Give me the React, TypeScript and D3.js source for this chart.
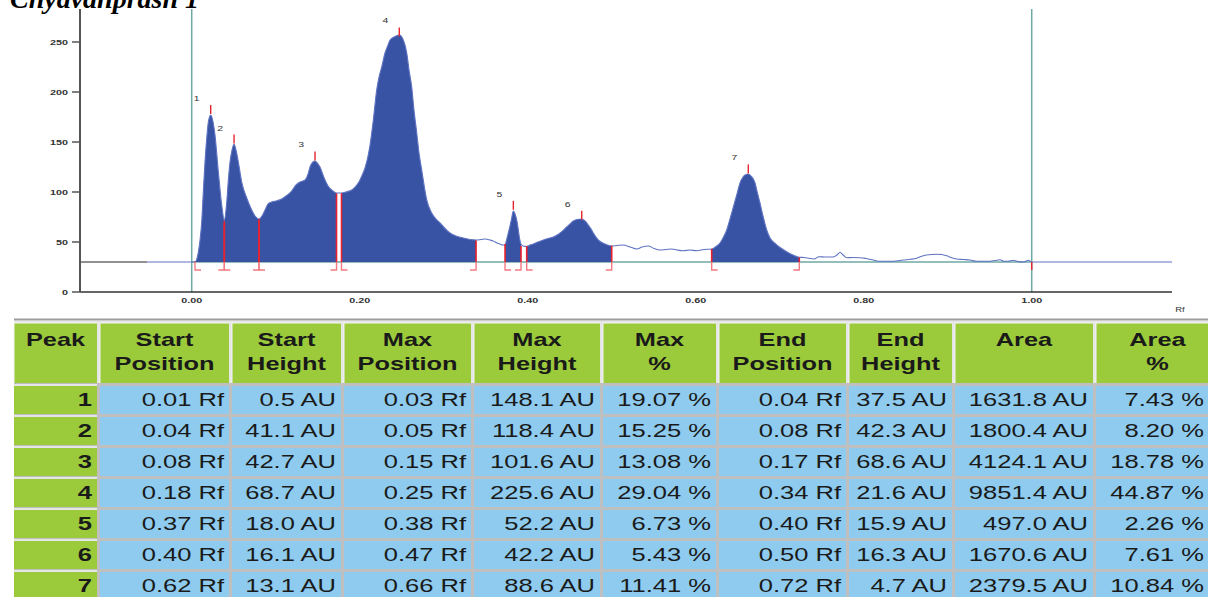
import * as d3 from "d3";

// densitogram trace: [Rf, AU]
const trace: [number, number][] = [
  [-0.053, 30], [0.0, 30], [0.0039, 30], [0.0079, 40], [0.0099, 52], [0.0119, 70],
  [0.0138, 100], [0.0158, 130], [0.0179, 154], [0.0198, 170], [0.0226, 177],
  [0.0254, 170], [0.0277, 157], [0.0317, 120], [0.0357, 87], [0.0388, 72],
  [0.0417, 90], [0.0436, 112], [0.0456, 130], [0.048, 142], [0.0504, 148],
  [0.0527, 142], [0.0555, 130], [0.0595, 110], [0.0655, 94], [0.0714, 82],
  [0.0754, 76], [0.0801, 73], [0.0837, 76], [0.0873, 82], [0.0908, 88],
  [0.0952, 90], [0.1004, 91], [0.1071, 93], [0.1123, 96], [0.119, 101],
  [0.1242, 107], [0.1289, 110], [0.1349, 112], [0.1385, 118], [0.1408, 125],
  [0.1444, 130], [0.1468, 131], [0.1504, 128], [0.1527, 125], [0.1563, 117],
  [0.1587, 112], [0.1623, 106], [0.1667, 102], [0.1724, 99], [0.1783, 99],
  [0.1837, 100], [0.1905, 102], [0.1956, 106], [0.1983, 109], [0.2024, 116],
  [0.2063, 124], [0.2099, 136], [0.2123, 147], [0.2162, 172], [0.2202, 202],
  [0.223, 215], [0.2262, 225], [0.2301, 239], [0.2337, 247], [0.2361, 252],
  [0.242, 255.5], [0.2471, 257], [0.2519, 252], [0.256, 239], [0.2587, 222],
  [0.2619, 205], [0.2646, 182], [0.2679, 159], [0.2706, 139], [0.2738, 122],
  [0.2798, 92], [0.2857, 79], [0.2908, 73], [0.2956, 69], [0.3075, 59],
  [0.3146, 56], [0.3233, 54], [0.3313, 52.5], [0.3385, 52], [0.3444, 52.5],
  [0.3492, 53], [0.3551, 52], [0.359, 51], [0.3635, 49], [0.367, 48],
  [0.3706, 47], [0.373, 47], [0.3748, 52], [0.3769, 59], [0.3789, 66],
  [0.3807, 73], [0.3829, 81], [0.3849, 78], [0.3869, 72], [0.3885, 64],
  [0.39, 55], [0.392, 48], [0.3944, 46], [0.3988, 45.5], [0.4027, 47],
  [0.4067, 48], [0.4123, 50], [0.4186, 52], [0.4242, 53.5], [0.4305, 55],
  [0.4361, 57.5], [0.4405, 60.3], [0.4464, 65], [0.4504, 68], [0.4543, 71],
  [0.4587, 72.5], [0.4643, 73], [0.4682, 71], [0.4721, 67], [0.4754, 63],
  [0.4781, 59], [0.484, 52], [0.492, 48], [0.5, 46], [0.5063, 46.5],
  [0.5138, 47], [0.5218, 45], [0.5298, 43], [0.5361, 45], [0.5436, 46],
  [0.5504, 43.5], [0.5575, 42], [0.5646, 42.5], [0.5714, 43], [0.5777, 42],
  [0.5852, 41.3], [0.5932, 42], [0.6012, 41.3], [0.6099, 42.5], [0.619, 43],
  [0.6242, 45.5], [0.6289, 49], [0.6325, 54], [0.6369, 62], [0.6408, 73],
  [0.6448, 85], [0.6488, 97], [0.6527, 109], [0.6563, 115], [0.6599, 117.5],
  [0.6626, 118], [0.6658, 116], [0.6706, 109], [0.6735, 99], [0.6765, 89],
  [0.6801, 76], [0.6845, 62], [0.6885, 54], [0.6944, 48.7], [0.7004, 44.5],
  [0.7083, 40.3], [0.7158, 37], [0.7233, 34.7], [0.7289, 34.5], [0.7349, 33.7],
  [0.7408, 33], [0.7468, 35.3], [0.754, 35], [0.7638, 35], [0.7682, 37],
  [0.7718, 39.7], [0.7754, 37], [0.7798, 34.3], [0.7873, 34.5], [0.7956, 34.3],
  [0.8027, 33.5], [0.8114, 32], [0.8174, 30.7], [0.8352, 30.7], [0.8471, 32],
  [0.8551, 32.7], [0.8631, 33.7], [0.8682, 35.5], [0.8749, 37], [0.8869, 37.7],
  [0.8988, 36.3], [0.9039, 34.5], [0.9107, 33], [0.9182, 32.5], [0.9265, 32],
  [0.9345, 30.7], [0.9504, 30.7], [0.9563, 31.5], [0.9623, 32.3], [0.967, 30.7],
  [0.9718, 30.7], [0.9781, 31.7], [0.9837, 30.5], [0.99, 30], [0.996, 31.7],
  [1.0, 30], [1.167, 30],
];

const BASE_AU = 30; // baseline the peak heights are measured from
const FRONT_RF = 1.0;

// integration limits as drawn on the scan
const peakFrom = [0.0039, 0.0388, 0.0801, 0.1783, 0.373, 0.3988, 0.619];
const peakTo = [0.0388, 0.0801, 0.1724, 0.3385, 0.392, 0.5, 0.7233];
const peakTop = [0.0226, 0.0504, 0.1468, 0.2471, 0.3829, 0.4643, 0.6626];

// peak table
const peakNo = [1, 2, 3, 4, 5, 6, 7];
const startPos = [0.01, 0.04, 0.08, 0.18, 0.37, 0.4, 0.62];
const startHeight = [0.5, 41.1, 42.7, 68.7, 18.0, 16.1, 13.1];
const maxPos = [0.03, 0.05, 0.15, 0.25, 0.38, 0.47, 0.66];
const maxHeight = [148.1, 118.4, 101.6, 225.6, 52.2, 42.2, 88.6];
const maxPct = [19.07, 15.25, 13.08, 29.04, 6.73, 5.43, 11.41];
const endPos = [0.04, 0.08, 0.17, 0.34, 0.4, 0.5, 0.72];
const endHeight = [37.5, 42.3, 68.6, 21.6, 15.9, 16.3, 4.7];
const areaAU = [1631.8, 1800.4, 4124.1, 9851.4, 497.0, 1670.6, 2379.5];
const areaPct = [7.43, 8.2, 18.78, 44.87, 2.26, 7.61, 10.84];

const headers = [
  ["Peak"], ["Start", "Position"], ["Start", "Height"], ["Max", "Position"],
  ["Max", "Height"], ["Max", "%"], ["End", "Position"], ["End", "Height"],
  ["Area"], ["Area", "%"],
];

const yTicks = [0, 50, 100, 150, 200, 250];
const xTicks = [0, 0.2, 0.4, 0.6, 0.8, 1.0];

const W = 1208;
const H = 597;
const SX = 1.38; // the scan is stretched horizontally

const BLUE = "#3953a4";
const LINE = "#5f73c2";
const TEAL = "#6fa9a6";
const RED = "#e8232f";
const PINK = "#f27a80";

const x = d3.scaleLinear([-0.133, 1.167], [80, 1172]);
const y = d3.scaleLinear([0, 283], [292, 9]);

const line = d3
  .line<[number, number]>()
  .x((d) => x(d[0]))
  .y((d) => y(d[1]))
  .curve(d3.curveMonotoneX);
const fillArea = d3
  .area<[number, number]>()
  .x((d) => x(d[0]))
  .y0(y(BASE_AU))
  .y1((d) => y(d[1]))
  .curve(d3.curveMonotoneX);

const f2 = d3.format(".2f");
const f1 = d3.format(".1f");

function T({ x, y, size, bold = false, anchor = "start", fill = "#1a1a1a", sx = SX, family = "'Liberation Sans', Arial, sans-serif", italic = false, children }: any) {
  return (
    <text
      transform={`translate(${x},${y}) scale(${sx},1)`}
      fontSize={size}
      fontWeight={bold ? "bold" : "normal"}
      fontStyle={italic ? "italic" : "normal"}
      fontFamily={family}
      textAnchor={anchor}
      fill={fill}
    >
      {children}
    </text>
  );
}

function Chart() {
  const y0 = y(BASE_AU);
  const yLow = y(BASE_AU - 8);
  return (
    <g>
      {/* Rf 0 and solvent front */}
      {[0, FRONT_RF].map((r) => (
        <line key={r} x1={x(r)} x2={x(r)} y1={y(283)} y2={y(0)} stroke={TEAL} strokeWidth={1.5} />
      ))}
      <line x1={x(0)} x2={x(FRONT_RF)} y1={y0} y2={y0} stroke={TEAL} strokeWidth={1.3} />
      {/* lead-in before the scan */}
      <line x1={x.range()[0]} x2={x(trace[0][0])} y1={y0} y2={y0} stroke="#222" strokeWidth={1} />

      <defs>
        {peakFrom.map((s, i) => (
          <clipPath id={`pk${i}`} key={i}>
            <rect x={x(s)} y={0} width={x(peakTo[i]) - x(s)} height={y0} />
          </clipPath>
        ))}
      </defs>
      {peakFrom.map((s, i) => (
        <path key={i} d={fillArea(trace) as string} fill={BLUE} clipPath={`url(#pk${i})`} />
      ))}
      <path d={line(trace) as string} fill="none" stroke={LINE} strokeWidth={1.1} />

      {/* integration limits */}
      {peakFrom.map((s, i) => {
        const xs = x(s);
        const xe = x(peakTo[i]);
        return (
          <g key={i}>
            <line x1={xs} x2={xs} y1={y(startHeight[i] + BASE_AU)} y2={y0} stroke={RED} strokeWidth={1.6} />
            <path d={`M${xs},${y0}V${yLow}h6`} fill="none" stroke={PINK} strokeWidth={1.4} />
            <line x1={xe} x2={xe} y1={y(endHeight[i] + BASE_AU)} y2={y0} stroke={RED} strokeWidth={1.6} />
            <path d={`M${xe},${y0}V${yLow}h-6`} fill="none" stroke={PINK} strokeWidth={1.4} />
            <line
              x1={x(peakTop[i])}
              x2={x(peakTop[i])}
              y1={y(maxHeight[i] + BASE_AU)}
              y2={y(maxHeight[i] + BASE_AU + 9)}
              stroke={RED}
              strokeWidth={1.4}
            />
            <T x={x(peakTop[i]) - 14} y={y(maxHeight[i] + BASE_AU + 9) - 4} size={8} anchor="middle" fill="#333" sx={1.3}>
              {peakNo[i]}
            </T>
          </g>
        );
      })}
      <line x1={x(FRONT_RF)} x2={x(FRONT_RF)} y1={y0} y2={yLow} stroke={RED} strokeWidth={1.4} />

      {/* axes */}
      <line x1={x.range()[0]} x2={x.range()[1]} y1={y(0)} y2={y(0)} stroke="#333" strokeWidth={1.5} />
      <line x1={x.range()[0]} x2={x.range()[0]} y1={y(283)} y2={y(0)} stroke="#555" strokeWidth={2} />
      {yTicks.map((t) => (
        <g key={t}>
          <line x1={x.range()[0] - 8} x2={x.range()[0]} y1={y(t)} y2={y(t)} stroke="#555" strokeWidth={1.5} />
          <T x={x.range()[0] - 12} y={y(t) + 3} size={8} bold anchor="end" fill="#333" sx={1.35}>
            {t}
          </T>
        </g>
      ))}
      {xTicks.map((t) => (
        <T key={t} x={x(t)} y={y(0) + 11} size={8} bold anchor="middle" fill="#333" sx={1.35}>
          {f2(t)}
        </T>
      ))}
      <T x={x.range()[1] + 8} y={y(0) + 20} size={7} anchor="middle" fill="#333" sx={1.35}>
        Rf
      </T>
    </g>
  );
}

const colW = [83, 129, 109, 127, 126, 113, 127, 103, 138, 113];
const GAP = 3;
const TX = 14;
const colX = colW.map((_, i) => TX + d3.sum(colW.slice(0, i)) + GAP * i);
const HEAD_Y = 323;
const HEAD_H = 60;
const ROW_Y = 386;
const ROW_H = 28;
const ROW_STEP = 31;

function Table() {
  const rows = peakNo.map((p, i) => [
    String(p),
    `${f2(startPos[i])} Rf`,
    `${f1(startHeight[i])} AU`,
    `${f2(maxPos[i])} Rf`,
    `${f1(maxHeight[i])} AU`,
    `${f2(maxPct[i])} %`,
    `${f2(endPos[i])} Rf`,
    `${f1(endHeight[i])} AU`,
    `${f1(areaAU[i])} AU`,
    `${f2(areaPct[i])} %`,
  ]);
  return (
    <g>
      <line x1={TX} x2={W} y1={319.5} y2={319.5} stroke="#9c9c9c" strokeWidth={2} />
      <rect x={TX} y={321} width={W - TX} height={HEAD_H + 4} fill="#e6e6e6" />
      <rect x={TX} y={HEAD_Y + HEAD_H} width={W - TX} height={H - HEAD_Y - HEAD_H} fill="#bfbfbf" />
      {headers.map((h, c) => (
        <g key={c}>
          <rect x={colX[c]} y={HEAD_Y} width={colW[c] + (c === colW.length - 1 ? 20 : 0)} height={HEAD_H} fill="#9bcb3b" />
          <path d={`M${colX[c]},${HEAD_Y + HEAD_H}V${HEAD_Y}h${colW[c]}`} fill="none" stroke="#f4f4f4" strokeWidth={1} />
          {h.map((s, k) => (
            <T key={k} x={colX[c] + (colW[c] + (c === colW.length - 1 ? 10 : 0)) / 2} y={HEAD_Y + 23 + k * 24} size={17.5} bold anchor="middle" sx={1.45}>
              {s}
            </T>
          ))}
        </g>
      ))}
      {rows.map((r, i) => (
        <g key={i}>
          {r.map((s, c) => (
            <g key={c}>
              <rect
                x={colX[c]}
                y={ROW_Y + i * ROW_STEP}
                width={colW[c] + (c === colW.length - 1 ? 20 : 0)}
                height={ROW_H}
                fill={c === 0 ? "#9bcb3b" : "#8ecbee"}
              />
              {c === 0 && (
                <line x1={colX[c]} x2={colX[c] + colW[c]} y1={ROW_Y + i * ROW_STEP - 1} y2={ROW_Y + i * ROW_STEP - 1} stroke="#f2f2f2" strokeWidth={1.5} />
              )}
              <T x={colX[c] + colW[c] - 5} y={ROW_Y + i * ROW_STEP + 20} size={18.5} bold={c === 0} anchor="end">
                {s}
              </T>
            </g>
          ))}
        </g>
      ))}
    </g>
  );
}

export default function App() {
  return (
    <svg
      width={W}
      height={H}
      viewBox={`0 0 ${W} ${H}`}
      style={{ position: "absolute", left: 0, top: 0, background: "#fff" }}
    >
      <rect width={W} height={H} fill="#fff" />
      <T x={10} y={8} size={28} bold italic anchor="start" fill="#000" sx={1} family="'Liberation Serif', 'Times New Roman', serif">
        Chyavanprash 1
      </T>
      <Chart />
      <Table />
    </svg>
  );
}
